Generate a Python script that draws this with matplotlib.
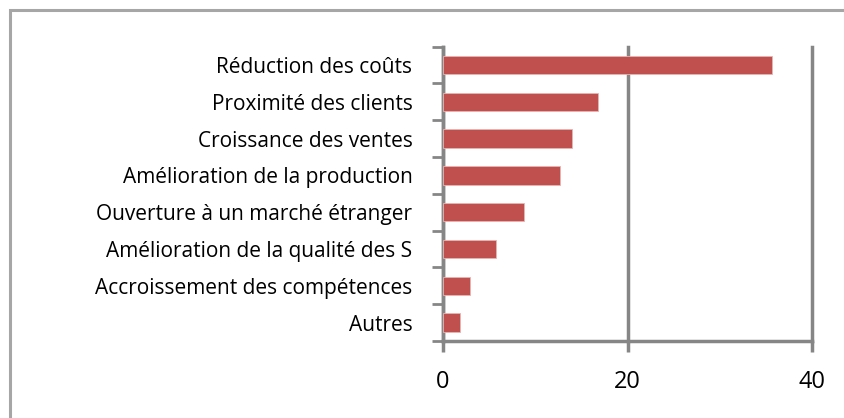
import numpy as np
import matplotlib.pyplot as plt
from matplotlib.patches import Rectangle

plt.rcParams['font.family'] = ['Open Sans', 'DejaVu Sans']

categories = ['Réduction des coûts', 'Proximité des clients', 'Croissance des ventes',
              'Amélioration de la production', 'Ouverture à un marché étranger',
              'Amélioration de la qualité des S', 'Accroissement des compétences', 'Autres']
values = [35.7, 16.8, 14.0, 12.7, 8.8, 5.7, 2.9, 1.8]
xticks = [0, 20, 40]

grey = '#868686'

fig = plt.figure(figsize=(8.45, 4.18), dpi=100, facecolor='white')
# chart frame (Excel style, cut at right and bottom)
fig.patches.append(Rectangle((10 / 845, -0.05), 1.2, 1 - 10 / 418 + 0.05,
                             transform=fig.transFigure, fill=False,
                             edgecolor='#a6a6a6', linewidth=2.2))

ax = fig.add_axes([443 / 845, 1 - 341 / 418, (812 - 443) / 845, (341 - 46.7) / 418])
y = np.arange(len(categories))
ax.barh(y, values, height=0.5, color='#C0504D', edgecolor='#e8b5b3', linewidth=0.6, zorder=3)
ax.set_ylim(len(categories) - 0.5, -0.5)
ax.set_xlim(0, 40)

ax.set_xticks(xticks)
ax.set_xticklabels([str(t) for t in xticks])
ax.set_yticks(np.arange(len(categories) + 1) - 0.5, minor=False)
ax.set_yticklabels([])
ax.set_yticks(y, minor=True)
ax.set_yticklabels(categories, minor=True)

ax.tick_params(axis='y', which='major', length=8, width=2, color=grey, direction='out')
ax.tick_params(axis='y', which='minor', length=0, pad=22, labelsize=15)
ax.tick_params(axis='x', length=8, width=2.5, color=grey, direction='out', pad=13, labelsize=17)

for s in ['top', 'right']:
    ax.spines[s].set_visible(False)
for s in ['left', 'bottom']:
    ax.spines[s].set_color(grey)
    ax.spines[s].set_linewidth(2.5)

ax.xaxis.grid(True, color=grey, linewidth=2.5, zorder=0)
for gl in ax.get_xgridlines():
    gl.set_clip_on(False)
ax.set_axisbelow(True)

plt.savefig('out.png', dpi=100, facecolor='white')
